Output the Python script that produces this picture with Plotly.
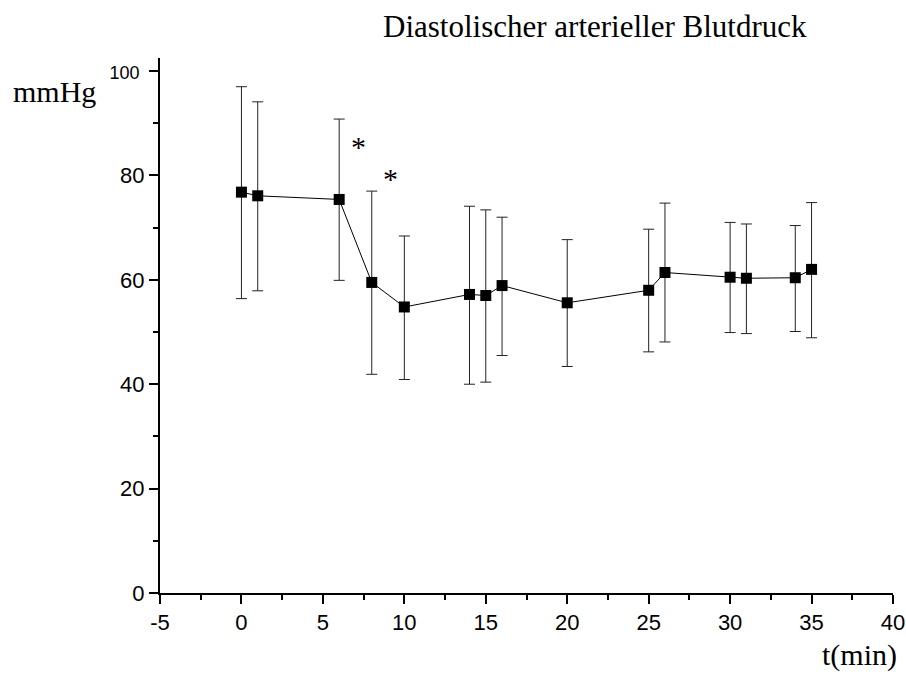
import plotly.graph_objects as go

t_min = [0, 1, 6, 8, 10, 14, 15, 16, 20, 25, 26, 30, 31, 34, 35]
mean_mmhg = [76.8, 76.1, 75.4, 59.5, 54.8, 57.2, 57.0, 58.9, 55.6, 58.0, 61.4, 60.5, 60.3, 60.4, 62.0]
upper_mmhg = [97.0, 94.1, 90.8, 77.0, 68.4, 74.1, 73.4, 72.0, 67.7, 69.7, 74.7, 71.0, 70.7, 70.4, 74.8]
lower_mmhg = [56.4, 57.9, 59.9, 41.9, 40.9, 40.0, 40.4, 45.5, 43.4, 46.2, 48.1, 49.9, 49.7, 50.1, 48.9]
star_x = [7.2, 9.15]
star_y = [85.8, 79.6]
x_tickvals = [-5, 0, 5, 10, 15, 20, 25, 30, 35, 40]
x_ticktext = ["-5", "0", "5", "10", "15", "20", "25", "30", "35", "40"]
y_tickvals = [0, 20, 40, 60, 80, 100]
y_ticktext = ["0", "20", "40", "60", "80", "<span style='font-size:18px'>100\u00a0</span>"]

err_plus = [u - m for u, m in zip(upper_mmhg, mean_mmhg)]
err_minus = [m - l for m, l in zip(mean_mmhg, lower_mmhg)]

fig = go.Figure()
fig.add_trace(go.Scatter(
    x=t_min, y=mean_mmhg, mode="lines+markers",
    line=dict(color="black", width=1),
    marker=dict(symbol="square", size=11, color="black"),
    error_y=dict(type="data", symmetric=False, array=err_plus, arrayminus=err_minus,
                 color="#222222", thickness=1, width=5.5),
    showlegend=False,
))

serif = "Liberation Serif"
for sx, sy in zip(star_x, star_y):
    fig.add_annotation(x=sx, y=sy, text="*", showarrow=False,
                       font=dict(family=serif, size=30, color="black"),
                       xanchor="center", yanchor="middle", yshift=-1)

fig.add_annotation(text="Diastolischer arterieller Blutdruck", xref="paper", yref="paper",
                   x=0.594, y=1.0, yshift=12, xanchor="center", yanchor="bottom", showarrow=False,
                   font=dict(family=serif, size=31, color="black"))
fig.add_annotation(text="mmHg", xref="paper", yref="paper", x=-0.085, xanchor="right",
                   y=0.938, yanchor="middle", showarrow=False,
                   font=dict(family=serif, size=30, color="black"))
fig.add_annotation(text="t(min)", xref="paper", yref="paper", x=1.0, xanchor="right", xshift=6,
                   y=-0.08, yanchor="top", showarrow=False,
                   font=dict(family=serif, size=30, color="black"))

tickfont = dict(family="Liberation Sans", size=22, color="black")
fig.update_xaxes(range=[-5, 40], tickmode="array", tickvals=x_tickvals, ticktext=x_ticktext,
                 ticks="outside", ticklen=9, tickwidth=2, tickcolor="black",
                 minor=dict(dtick=2.5, tick0=-5, ticks="outside", ticklen=5, tickwidth=2, tickcolor="black"),
                 showline=True, linecolor="black", linewidth=2, showgrid=False, zeroline=False,
                 tickfont=tickfont, automargin=False)
fig.update_yaxes(range=[0, 102.5], tickmode="array", tickvals=y_tickvals, ticktext=y_ticktext,
                 ticks="outside", ticklen=9, tickwidth=2, tickcolor="black",
                 minor=dict(dtick=10, tick0=0, ticks="outside", ticklen=5, tickwidth=2, tickcolor="black"),
                 showline=True, linecolor="black", linewidth=2, showgrid=False, zeroline=False,
                 tickfont=tickfont, automargin=False)
fig.update_layout(width=906, height=678, margin=dict(l=160, r=13, t=58, b=85),
                  plot_bgcolor="white", paper_bgcolor="white")
fig.write_html("out.html")
